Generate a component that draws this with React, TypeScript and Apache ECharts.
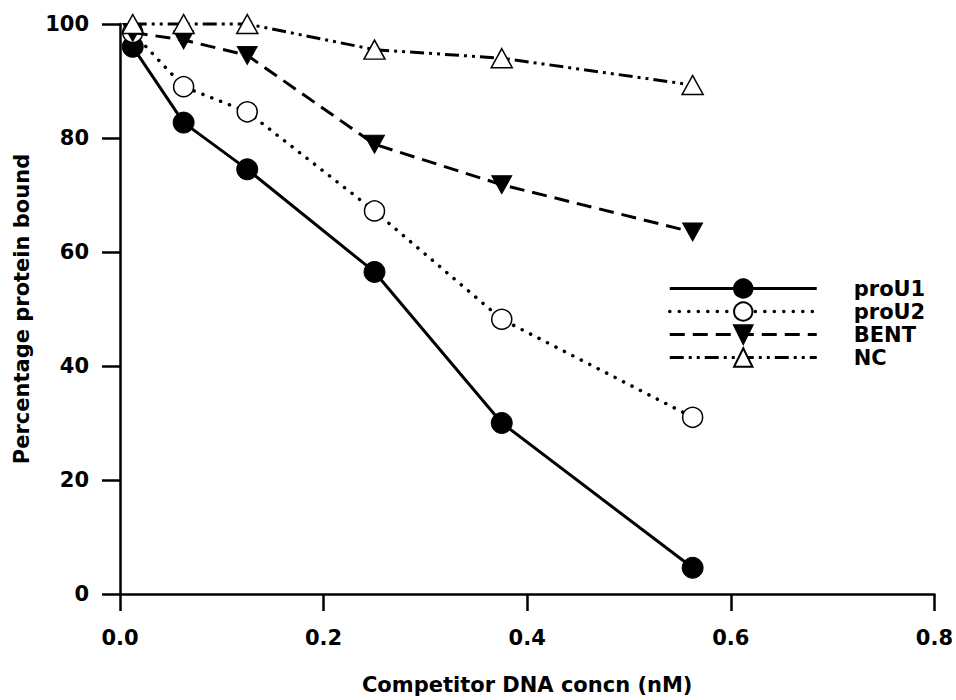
import React, { useEffect, useRef } from "react";
import * as echarts from "echarts";

const concn = [0.0125, 0.0625, 0.125, 0.25, 0.375, 0.5625];
const proU1 = [96, 82.7, 74.5, 56.5, 30, 4.6];
const proU2 = [98.5, 89, 84.6, 67.2, 48.2, 31];
const bent = [98.5, 97.2, 94.5, 78.9, 71.8, 63.5];
const nc = [100, 100, 100, 95.5, 94, 89.3];
const xTicks = [0, 0.2, 0.4, 0.6, 0.8];
const yTicks = [0, 20, 40, 60, 80, 100];

const FONT = "'DejaVu Sans', 'Liberation Sans', sans-serif";
const DOWN_TRI = "path://M0,0L20,0L10,18Z";

export default function App() {
  const ref = useRef<HTMLDivElement>(null);
  useEffect(() => {
    if (!ref.current) return;
    const chart = echarts.init(ref.current, undefined, { renderer: "svg" });
    const pairs = (ys: number[]) => concn.map((x, i) => [x, ys[i]]);
    const lineW = 3;
    const txt = { fontFamily: FONT, fontWeight: "bold", fontSize: 21, color: "#000" };
    chart.setOption({
      animation: false,
      backgroundColor: "#fff",
      grid: { left: 120, right: 20, top: 24, bottom: 106, containLabel: false },
      xAxis: {
        type: "value",
        min: xTicks[0],
        max: xTicks[xTicks.length - 1],
        interval: 0.2,
        name: "Competitor DNA concn (nM)",
        nameLocation: "middle",
        nameGap: 80,
        nameTextStyle: { ...txt },
        axisLine: { show: true, lineStyle: { color: "#000", width: 2.5 } },
        axisTick: { show: true, inside: false, length: 17, lineStyle: { color: "#000", width: 2.5 } },
        axisLabel: {
          margin: 33,
          ...txt,
          formatter: (v: number) => v.toFixed(1),
        },
        splitLine: { show: false },
      },
      yAxis: {
        type: "value",
        min: yTicks[0],
        max: yTicks[yTicks.length - 1],
        interval: 20,
        name: "Percentage protein bound",
        nameLocation: "middle",
        nameGap: 88,
        nameRotate: 90,
        nameTextStyle: { ...txt },
        axisLine: { show: true, lineStyle: { color: "#000", width: 2.5 } },
        axisTick: { show: true, inside: false, length: 18, lineStyle: { color: "#000", width: 2.5 } },
        axisLabel: { margin: 31, ...txt },
        splitLine: { show: false },
      },
      legend: {
        orient: "vertical",
        left: 668,
        top: 277,
        itemWidth: 147,
        itemHeight: 23,
        itemGap: 0,
        padding: 0,
        lineStyle: { width: "inherit" },
        textStyle: {
          ...txt,
          padding: [0, 0, 0, 32],
          lineHeight: 23,
        },
        data: ["proU1", "proU2", "BENT", "NC"],
      },
      series: [
        {
          name: "proU1",
          type: "line",
          data: pairs(proU1),
          clip: false,
          symbol: "circle",
          symbolSize: 21,
          lineStyle: { color: "#000", width: lineW, type: "solid" },
          itemStyle: { color: "#000", borderColor: "#000", borderWidth: 1 },
          z: 2,
        },
        {
          name: "proU2",
          type: "line",
          data: pairs(proU2),
          clip: false,
          symbol: "circle",
          symbolSize: 20,
          lineStyle: { color: "#000", width: 3.5, type: [0.1, 9.4], cap: "round" },
          itemStyle: { color: "#fff", borderColor: "#000", borderWidth: 1.5 },
          z: 3,
        },
        {
          name: "BENT",
          type: "line",
          data: pairs(bent),
          clip: false,
          symbol: DOWN_TRI,
          symbolSize: [20, 18],
          symbolKeepAspect: false,
          lineStyle: { color: "#000", width: lineW, type: [15, 8] },
          itemStyle: { color: "#000", borderColor: "#000", borderWidth: 1 },
          z: 4,
        },
        {
          name: "NC",
          type: "line",
          data: pairs(nc),
          clip: false,
          symbol: "triangle",
          symbolSize: [21, 19],
          lineStyle: { color: "#000", width: lineW, type: [14, 5, 3, 5, 3, 5] },
          itemStyle: { color: "#fff", borderColor: "#000", borderWidth: 1.5 },
          z: 5,
        },
      ],
    });
    return () => chart.dispose();
  }, []);
  return (
    <div
      ref={ref}
      style={{ position: "fixed", left: 0, top: 0, width: 956, height: 700 }}
    />
  );
}
